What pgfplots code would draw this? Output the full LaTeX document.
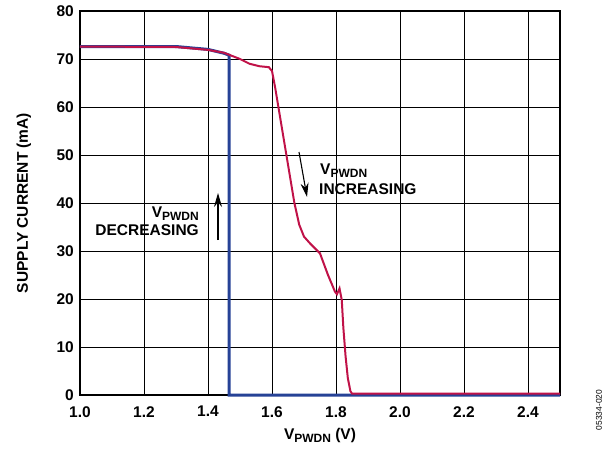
\documentclass[border=0pt]{standalone}
\usepackage{pgfplots}
\pgfplotsset{compat=1.18}
\usepackage{fontspec}
\setmainfont{Liberation Sans}
\usetikzlibrary{arrows.meta}
\definecolor{redc}{RGB}{192,18,72}
\definecolor{bluec}{RGB}{38,66,150}
\newcommand{\fs}{\fontsize{15.5}{18}\selectfont\bfseries}
\newcommand{\vp}{V\raisebox{-0.22em}{\fontsize{12}{12}\selectfont PWDN}}
\begin{document}
\begin{tikzpicture}
\useasboundingbox (-80pt,-56pt) rectangle (536pt,395pt);
\begin{axis}[
  at={(0pt,0pt)}, anchor=south west,
  scale only axis, width=480pt, height=384pt,
  xmin=1.0, xmax=2.5, ymin=0, ymax=80,
  xtick={1.0,1.2,1.4,1.6,1.8,2.0,2.2,2.4}, ytick={0,10,...,80},
  grid=major, major grid style={black, line width=1pt},
  axis line style={black, line width=1.6pt},
  tick style={draw=none},
  clip=false,
  /pgf/number format/assume math mode=true,
  x tick label style={/pgf/number format/fixed, /pgf/number format/fixed zerofill, /pgf/number format/precision=1, inner sep=0pt, yshift=-11pt},
  y tick label style={inner sep=0pt, xshift=-6pt},
  ticklabel style={font=\fs},
]
\addplot[bluec, line width=3pt] coordinates {
(1.0,72.6) (1.3,72.6) (1.4,72.0) (1.45,71.2) (1.466,70.8) (1.466,0) (2.5,0)};
\addplot[redc, line width=2pt] coordinates {
(1.0,72.6) (1.3,72.5) (1.4,71.9) (1.45,71.3) (1.5,70.0) (1.53,69.0) (1.56,68.5)
(1.59,68.3) (1.6,67.5) (1.61,64) (1.625,58) (1.64,52) (1.655,46) (1.67,40)
(1.685,35.5) (1.70,33) (1.72,31.5) (1.75,29.5) (1.775,25) (1.797,21.5) (1.803,21)
(1.811,22.2) (1.818,19.8) (1.823,14) (1.83,8) (1.837,3.5) (1.845,0.8) (1.85,0.3) (2.5,0.3)};
\end{axis}
% axis labels
\node[anchor=base, font=\fs, inner sep=0pt] at (240pt,-44pt) {\vp\ (V)};
\node[rotate=90, anchor=base, font=\fs, inner sep=0pt] at (-52pt,192pt) {SUPPLY CURRENT (mA)};
% annotations
\node[anchor=base west, font=\fs, inner sep=0pt] at (240pt,221pt) {\vp};
\node[anchor=base west, font=\fs, inner sep=0pt] at (239pt,201pt) {INCREASING};
\node[anchor=base east, font=\fs, inner sep=0pt] at (119pt,178pt) {\vp};
\node[anchor=base east, font=\fs, inner sep=0pt] at (119pt,160pt) {DECREASING};
\draw[-{Stealth[length=14pt,width=8pt]}, line width=1.1pt] (219pt,243pt) -- (227pt,198pt);
\draw[-{Stealth[length=14pt,width=8pt]}, line width=1.1pt] (138pt,155pt) -- (138pt,202pt);
\node[rotate=90, font=\fontsize{8.4}{9}\selectfont, inner sep=0pt] at (519pt,-15pt) {05334-020};
\end{tikzpicture}
\end{document}
